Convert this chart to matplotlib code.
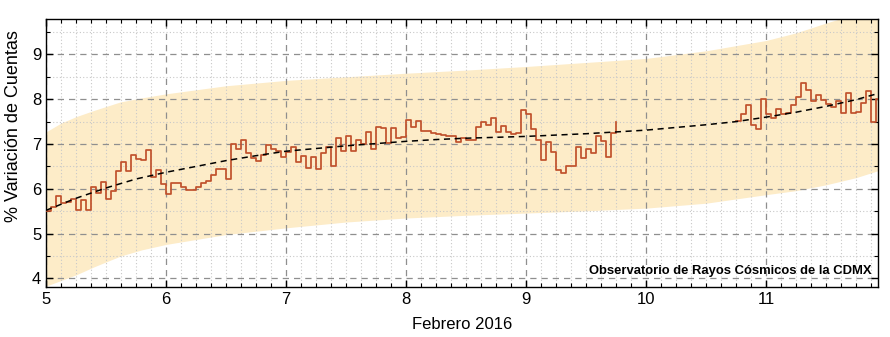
import matplotlib.pyplot as plt
import numpy as np
from matplotlib.ticker import MultipleLocator

plt.rcParams["font.family"] = ["Liberation Sans", "DejaVu Sans"]

# hourly counts variation (%), first block starts Feb 5 00:00
SEG1_START_H = 0
SEG1 = [
    5.50, 5.59, 5.84, 5.69, 5.71, 5.78, 5.52, 5.76, 5.52, 6.04,
    5.90, 6.15, 5.78, 5.96, 6.39, 6.59, 6.40, 6.75, 6.67, 6.64,
    6.87, 6.27, 6.41, 6.10, 5.88, 6.13, 6.14, 6.04, 5.98, 5.98,
    6.05, 6.13, 6.18, 6.31, 6.45, 6.45, 6.22, 6.99, 6.88, 7.10,
    6.81, 6.68, 6.63, 6.76, 6.97, 6.88, 6.85, 6.70, 6.82, 6.94,
    6.59, 6.74, 6.46, 6.72, 6.45, 6.79, 6.94, 6.50, 7.13, 6.84,
    7.18, 6.84, 7.10, 6.99, 7.27, 6.90, 7.38, 7.35, 7.02, 7.36,
    7.13, 7.16, 7.53, 7.38, 7.52, 7.30, 7.29, 7.25, 7.22, 7.20,
    7.18, 7.18, 7.05, 7.13, 7.09, 7.09, 7.38, 7.50, 7.42, 7.57,
    7.26, 7.41, 7.26, 7.22, 7.24, 7.76, 7.67, 7.33, 7.09, 6.64,
    7.04, 6.83, 6.42, 6.36, 6.52, 6.52, 6.93, 6.68, 6.90, 6.81,
    7.18, 7.07, 6.70, 7.25, 7.50,
]
SEG2_START_H = 138
SEG2 = [
    7.51, 7.67, 7.88, 7.42, 7.33, 8.01, 7.66, 7.58, 7.79, 7.66,
    7.70, 7.86, 8.04, 8.36, 8.20, 7.96, 8.09, 7.98, 7.90, 7.83,
    7.96, 7.70, 8.13, 7.70, 7.72, 7.92, 8.18, 7.50, 8.01, 8.15,
]

# smoothed trend and its band
TREND_DAYS = [5.0, 5.25, 5.5, 5.75, 6.0, 6.25, 6.5, 6.75, 7.0, 7.25, 7.5,
              7.75, 8.0, 8.25, 8.5, 8.75, 9.0, 9.25, 9.5, 9.75, 10.0,
              10.25, 10.5, 10.75, 11.0, 11.25, 11.5, 11.75, 11.95]
TREND = [5.52, 5.79, 6.02, 6.22, 6.37, 6.50, 6.63, 6.74, 6.84, 6.90, 6.96,
         7.01, 7.06, 7.10, 7.13, 7.15, 7.17, 7.20, 7.23, 7.27, 7.31,
         7.37, 7.43, 7.50, 7.60, 7.71, 7.84, 7.99, 8.14]

BAND_DAYS = [5.0, 5.12, 5.25, 5.4, 5.62, 5.8, 6.0, 6.5, 7.0, 7.5, 8.0,
             8.5, 9.0, 9.5, 10.0, 10.5, 11.0, 11.25, 11.5, 11.75, 11.95]
BAND_UP = [7.27, 7.46, 7.61, 7.75, 7.94, 8.03, 8.12, 8.30, 8.42, 8.50, 8.58,
           8.65, 8.73, 8.82, 8.91, 9.08, 9.31, 9.48, 9.70, 9.90, 10.05]
BAND_LO = [3.83, 3.95, 4.08, 4.26, 4.50, 4.64, 4.76, 4.98, 5.13, 5.26, 5.35,
           5.41, 5.46, 5.51, 5.57, 5.68, 5.87, 5.96, 6.09, 6.25, 6.42]

DAY0 = 5


def main():
    fig = plt.figure(figsize=(8.9, 3.37), dpi=100)
    ax = fig.add_axes([0.0517, 0.147, 0.9348, 0.798])

    ax.fill_between(BAND_DAYS, BAND_LO, BAND_UP, color="#fdecc8",
                    linewidth=0, zorder=1)

    for start, vals in ((SEG1_START_H, SEG1), (SEG2_START_H, SEG2)):
        t = DAY0 + (start + np.arange(len(vals))) / 24.0
        ax.step(t, vals, where="post", color="#c0512c", linewidth=1.25, zorder=3)

    ax.plot(TREND_DAYS, TREND, color="black", linestyle=(0, (4, 3)),
            linewidth=1.1, zorder=4)

    ax.set_xlim(5, 11.933)
    ax.set_ylim(3.8, 9.8)
    ax.xaxis.set_major_locator(MultipleLocator(1))
    ax.xaxis.set_minor_locator(MultipleLocator(1 / 8))
    ax.yaxis.set_major_locator(MultipleLocator(1))
    ax.yaxis.set_minor_locator(MultipleLocator(0.5))

    ax.grid(which="major", color="#8f8f8f", linestyle=(0, (5, 4)), linewidth=0.9)
    ax.grid(which="minor", color="#c8c8c8", linestyle=(0, (1, 2)), linewidth=0.8)

    ax.tick_params(which="both", direction="in", top=True, right=True,
                   labelsize=12)
    ax.tick_params(which="major", length=5, width=1)
    ax.tick_params(which="minor", length=3, width=0.8)
    for s in ax.spines.values():
        s.set_linewidth(1.0)

    ax.set_xlabel("Febrero 2016", fontsize=12, labelpad=7)
    ax.set_ylabel("% Variación de Cuentas", fontsize=13)
    ax.yaxis.set_label_coords(-0.029, 0.6)

    ax.text(0.992, 0.04, "Observatorio de Rayos Cósmicos de la CDMX",
            transform=ax.transAxes, ha="right", va="bottom",
            fontsize=9.4, fontweight="bold", zorder=5)

    fig.savefig("out.png", dpi=100)


if __name__ == "__main__":
    main()
